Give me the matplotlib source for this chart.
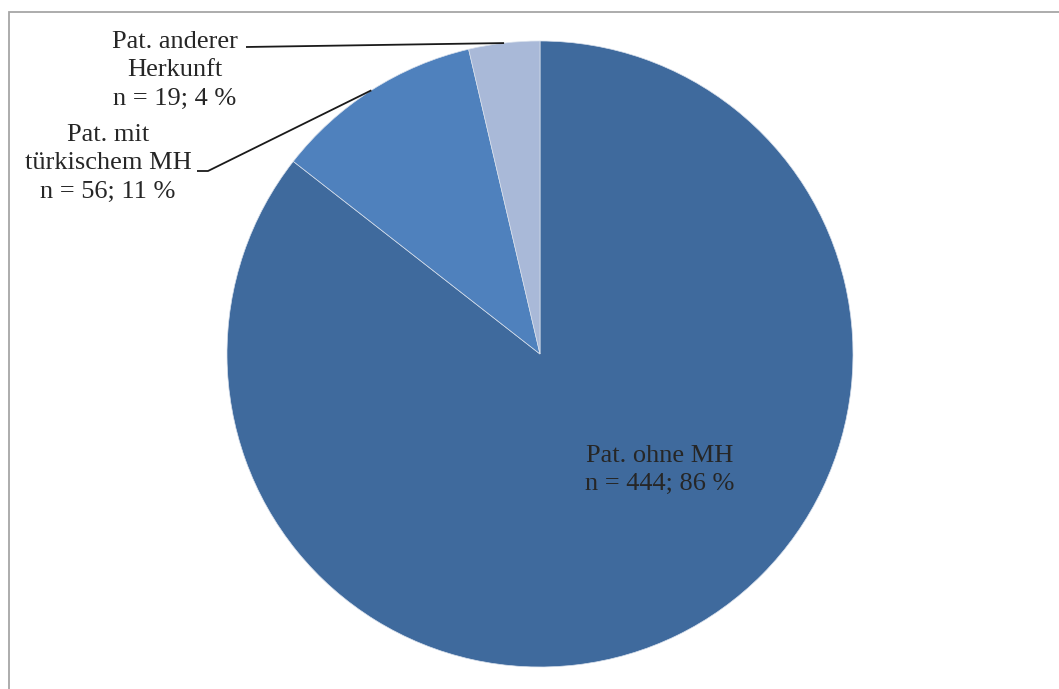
import numpy as np
import matplotlib.pyplot as plt
from matplotlib.patches import Rectangle

labels = ['Pat. ohne MH', 'Pat. mit\ntürkischem MH', 'Pat. anderer\nHerkunft']
counts = [444, 56, 19]
percents = [86, 11, 4]
colors = ['#3F6A9D', '#4F81BD', '#A9B9D8']

plt.rcParams['font.family'] = ['Liberation Serif', 'DejaVu Serif']

W, H = 1059, 689
fig = plt.figure(figsize=(W / 100, H / 100), dpi=100)

# pie centre (540, 354) px, radius 313 px
cx, cy, r = 540, 354, 313
ax = fig.add_axes([(cx - r) / W, (H - cy - r) / H, 2 * r / W, 2 * r / H])
wedges, _ = ax.pie(counts, colors=colors, startangle=90, counterclock=False,
                   radius=1, wedgeprops=dict(linewidth=0.5, edgecolor='#d8e0ec'))
ax.set_xlim(-1, 1)
ax.set_ylim(-1, 1)
ax.set_aspect('equal')
ax.axis('off')


def px(x, y):
    return (x - cx) / r, (cy - y) / r


def edge_point(w):
    mid = np.deg2rad((w.theta1 + w.theta2) / 2)
    return np.cos(mid), np.sin(mid)


txt = dict(fontsize=19, color='#262626', ha='center', va='center',
           multialignment='center', linespacing=1.38)

texts = ['{}\nn = {}; {} %'.format(l, n, p) for l, n, p in zip(labels, counts, percents)]

# inside label for the big slice
ax.text(*px(660, 470), texts[0], **txt)

# outside labels with leader lines
ax.text(*px(108, 163), texts[1], **txt)
ex, ey = edge_point(wedges[1])
pts = [px(197, 171), px(208, 171), (ex, ey)]
ax.plot([p[0] for p in pts], [p[1] for p in pts], color='#1a1a1a', lw=1.3,
        clip_on=False, solid_capstyle='butt')

ax.text(*px(175, 70), texts[2], **txt)
ex, ey = edge_point(wedges[2])
pts = [px(246, 47), (ex, ey)]
ax.plot([p[0] for p in pts], [p[1] for p in pts], color='#1a1a1a', lw=1.3,
        clip_on=False, solid_capstyle='butt')

# chart area frame
fig.patches.append(Rectangle((8.5 / W, -0.1), 1.2, 1 - 11.5 / H + 0.1,
                             transform=fig.transFigure, fill=False,
                             edgecolor='#A6A6A6', lw=1.3))

fig.savefig('out.png', dpi=100)
